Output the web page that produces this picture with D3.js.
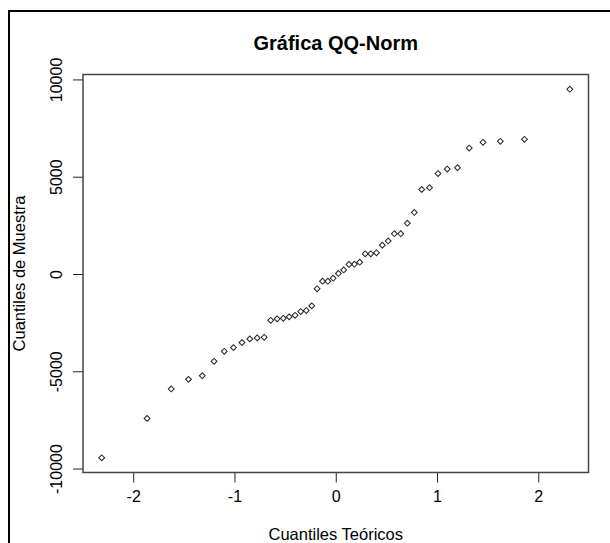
<!DOCTYPE html>
<html>
<head>
<meta charset="utf-8">
<script src="https://cdn.jsdelivr.net/npm/d3@7"></script>
<style>
  body { margin: 0; background: #fff; }
  text { font-family: "Liberation Sans", Arial, sans-serif; fill: #000; }
</style>
</head>
<body>
<div id="chart"></div>
<script>
// theoretical normal quantiles, n = 48
const cuantilesTeoricos = [
  -2.311, -1.863, -1.625, -1.454, -1.318, -1.202, -1.101, -1.010, -0.926, -0.849,
  -0.776, -0.707, -0.642, -0.579, -0.518, -0.460, -0.402, -0.346, -0.291, -0.237,
  -0.184, -0.131, -0.078, -0.026, 0.026, 0.078, 0.131, 0.184, 0.237, 0.291,
  0.346, 0.402, 0.460, 0.518, 0.579, 0.642, 0.707, 0.776, 0.849, 0.926,
  1.010, 1.101, 1.202, 1.318, 1.454, 1.625, 1.863, 2.311
];

// sample quantiles, sorted
const cuantilesMuestra = [
  -9445, -7422, -5909, -5415, -5224, -4488, -3974, -3783, -3526, -3335,
  -3284, -3253, -2378, -2306, -2275, -2203, -2121, -1930, -1879, -1637,
  -762, -371, -371, -216, 26, 206, 489, 504, 607, 1040,
  1040, 1091, 1482, 1699, 2069, 2069, 2610, 3165, 4349, 4437,
  5162, 5394, 5466, 6475, 6768, 6820, 6923, 9496
];

const xTicks = [-2, -1, 0, 1, 2];
const yTicks = [-10000, -5000, 0, 5000, 10000];

const points = cuantilesTeoricos.map((t, i) => ({ x: t, y: cuantilesMuestra[i] }));

const width = 610;
const height = 543;
const box = { left: 83, right: 588.5, top: 74.5, bottom: 472.5 };
const font = "Liberation Sans, Arial, sans-serif";

// R-style 4% range extension
function padded(ext) {
  const d = (ext[1] - ext[0]) * 0.04;
  return [ext[0] - d, ext[1] + d];
}

const x = d3.scaleLinear()
  .domain(padded(d3.extent(cuantilesTeoricos)))
  .range([box.left, box.right]);

const y = d3.scaleLinear()
  .domain(padded(d3.extent(cuantilesMuestra)))
  .range([box.bottom, box.top]);

const svg = d3.select("#chart")
  .append("svg")
  .attr("width", width)
  .attr("height", height);

svg.append("rect")
  .attr("width", width)
  .attr("height", height)
  .attr("fill", "#fff");

// outer frame (cut off at right / bottom)
svg.append("rect")
  .attr("x", 9)
  .attr("y", 11)
  .attr("width", 640)
  .attr("height", 600)
  .attr("fill", "none")
  .attr("stroke", "#000")
  .attr("stroke-width", 2);

// x axis
const xAxis = svg.append("g")
  .attr("transform", `translate(0,${box.bottom})`)
  .call(d3.axisBottom(x).tickValues(xTicks).tickFormat(d => String(d))
    .tickSize(10).tickSizeOuter(0).tickPadding(8));
xAxis.select(".domain").remove();
xAxis.selectAll("line").attr("stroke", "#222");
xAxis.selectAll("text")
  .attr("font-size", 16)
  .attr("font-family", font)
  .attr("fill", "#000");

// y axis, labels rotated like R
const yAxis = svg.append("g")
  .attr("transform", `translate(${box.left},0)`)
  .call(d3.axisLeft(y).tickValues(yTicks).tickFormat(d => String(d))
    .tickSize(10).tickSizeOuter(0));
yAxis.select(".domain").remove();
yAxis.selectAll("line").attr("stroke", "#222");
yAxis.selectAll("text")
  .attr("x", 0)
  .attr("dy", 0)
  .attr("transform", "translate(-21,0) rotate(-90)")
  .attr("text-anchor", "middle")
  .attr("font-size", 16)
  .attr("font-family", font)
  .attr("fill", "#000");

// plot box
svg.append("rect")
  .attr("x", box.left)
  .attr("y", box.top)
  .attr("width", box.right - box.left)
  .attr("height", box.bottom - box.top)
  .attr("fill", "none")
  .attr("stroke", "#444")
  .attr("stroke-width", 1.5);

// points (small open diamonds)
const sym = d3.symbol().type(d3.symbolSquare).size(17);
svg.append("g")
  .selectAll("path")
  .data(points)
  .join("path")
  .attr("d", sym)
  .attr("transform", d => `translate(${x(d.x)},${y(d.y)}) rotate(45)`)
  .attr("fill", "none")
  .attr("stroke", "#222")
  .attr("stroke-width", 1);

const cx = (box.left + box.right) / 2;
const cy = (box.top + box.bottom) / 2;

svg.append("text")
  .attr("x", cx)
  .attr("y", 50)
  .attr("text-anchor", "middle")
  .attr("font-size", 20)
  .attr("font-weight", "bold")
  .text("Gráfica QQ-Norm");

svg.append("text")
  .attr("x", cx)
  .attr("y", 540)
  .attr("text-anchor", "middle")
  .attr("font-size", 16.5)
  .text("Cuantiles Teóricos");

svg.append("text")
  .attr("transform", `translate(25,${cy}) rotate(-90)`)
  .attr("text-anchor", "middle")
  .attr("font-size", 16.5)
  .text("Cuantiles de Muestra");
</script>
</body>
</html>
